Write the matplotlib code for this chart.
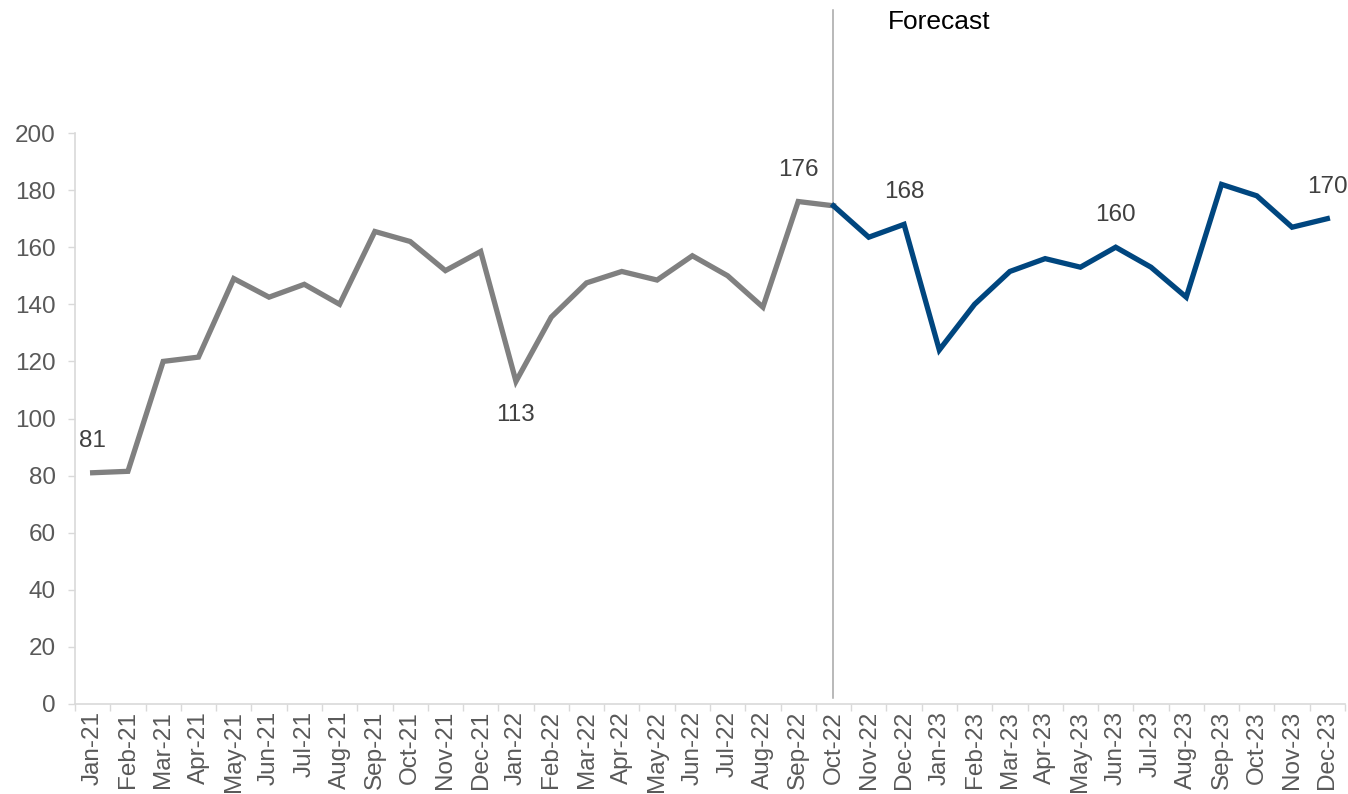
import numpy as np
import matplotlib.pyplot as plt

plt.rcParams['font.family'] = ['Liberation Sans', 'DejaVu Sans']

months = ["Jan-21", "Feb-21", "Mar-21", "Apr-21", "May-21", "Jun-21", "Jul-21", "Aug-21",
          "Sep-21", "Oct-21", "Nov-21", "Dec-21", "Jan-22", "Feb-22", "Mar-22", "Apr-22",
          "May-22", "Jun-22", "Jul-22", "Aug-22", "Sep-22", "Oct-22", "Nov-22", "Dec-22",
          "Jan-23", "Feb-23", "Mar-23", "Apr-23", "May-23", "Jun-23", "Jul-23", "Aug-23",
          "Sep-23", "Oct-23", "Nov-23", "Dec-23"]
values = [81, 81.5, 120, 121.5, 149, 142.5, 147, 140, 165.5, 162, 151.8, 158.5,
          113, 135.5, 147.5, 151.5, 148.5, 157, 150, 139, 176, 174.5, 163.5, 168,
          124, 140, 151.5, 156, 153, 160, 153, 142.5, 182, 178, 167, 170]
forecast_start = "Oct-22"
labelled = {"Jan-21": "above", "Jan-22": "below", "Sep-22": "above",
            "Dec-22": "above", "Jun-23": "above", "Dec-23": "above"}

x = np.arange(len(months))
y = np.array(values)
split = months.index(forecast_start)

fig = plt.figure(figsize=(13.48, 7.94), dpi=100)
ax = fig.add_axes([75 / 1348, 1 - 704 / 794, 1270 / 1348, 571 / 794])

ax.plot(x[:split + 1], y[:split + 1], color="#808080", lw=3.8, solid_joinstyle="miter")
ax.plot(x[split:], y[split:], color="#00467f", lw=3.8, solid_joinstyle="miter")

# forecast divider runs up past the plot area
ax.axvline(split, ymin=0.01, ymax=1.215, color="#a6a6a6", lw=1.1, clip_on=False, zorder=0)
ax.text(split + 1.54, 239, "Forecast", fontsize=19, color="black", va="center", ha="left")

for m, pos in labelled.items():
    i = months.index(m)
    dy = 23 if pos == "above" else -24
    ax.annotate(f"{values[i]:.0f}", (i, values[i]), xytext=(0, dy), textcoords="offset points",
                ha="center", va="center", fontsize=17.5, color="#404040")

ax.set_xlim(-0.5, len(months) - 0.5)
ax.set_ylim(0, 200)
ax.set_yticks(range(0, 201, 20))
ax.set_xticks(x)
ax.set_xticklabels(months, rotation=90)
ax.set_xticks(np.arange(-0.5, len(months), 1), minor=True)
ax.tick_params(axis="x", which="major", length=0, pad=5, labelsize=17.5, labelcolor="#595959")
ax.tick_params(axis="x", which="minor", length=5, color="#d9d9d9", width=1)
ax.tick_params(axis="y", length=5, color="#d9d9d9", width=1, pad=9, labelsize=17.5,
               labelcolor="#595959")

for side in ("top", "right"):
    ax.spines[side].set_visible(False)
for side in ("left", "bottom"):
    ax.spines[side].set_color("#d9d9d9")
    ax.spines[side].set_linewidth(1.2)

fig.savefig("out.png", dpi=100)
